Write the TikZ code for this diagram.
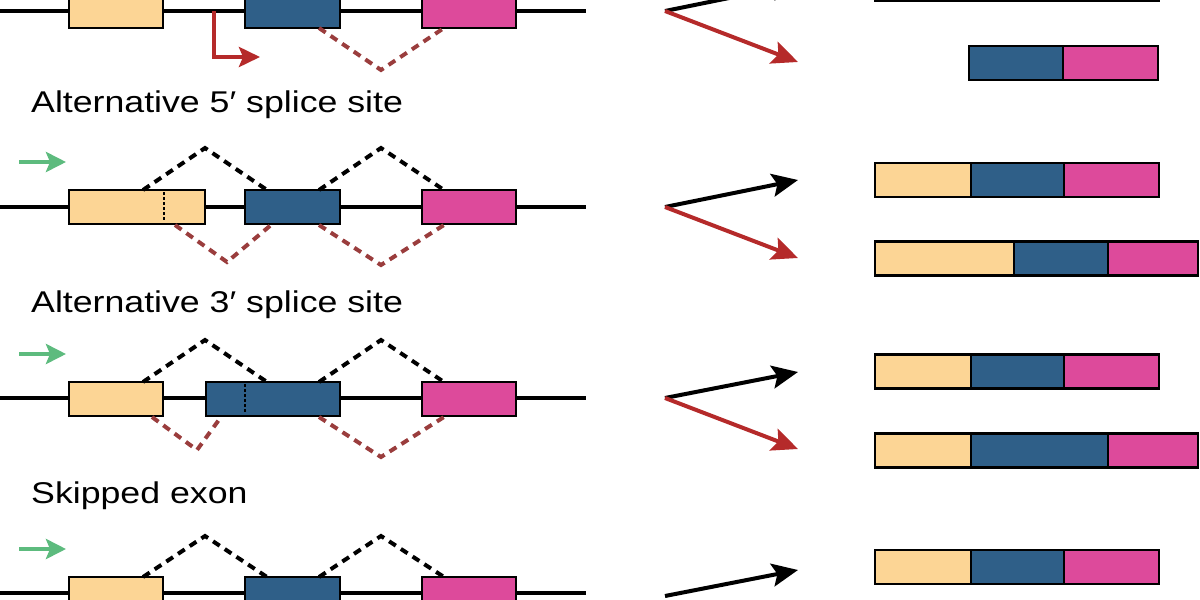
\documentclass[tikz,border=0pt]{standalone}
\usepackage{fontspec}
\setmainfont{Liberation Sans}
\newfontfamily\titlefont[FakeStretch=1.19]{Liberation Sans}
\usetikzlibrary{arrows.meta}
\definecolor{exY}{HTML}{FCD595}
\definecolor{exB}{HTML}{2F5F88}
\definecolor{exP}{HTML}{DD4A9B}
\definecolor{redA}{HTML}{B52A2A}
\definecolor{redD}{HTML}{9A3D3D}
\definecolor{grnA}{HTML}{5DBB7E}
\tikzset{
  intron/.style={line width=4.5pt, black},
  exon/.style={draw=black, line width=2.5pt, inner sep=0pt, outer sep=0pt},
  yex/.style={exon, fill=exY},
  bex/.style={exon, fill=exB},
  pex/.style={exon, fill=exP},
  jdash/.style={line width=4pt, dash pattern=on 8pt off 6pt},
  blackjn/.style={jdash, black},
  redjn/.style={jdash, redD},
  inner/.style={line width=2.5pt, dash pattern=on 3pt off 2pt, black},
  outarrow/.style={line width=4pt, -{Stealth[length=26pt,width=23pt,inset=5pt]}},
  greenarrow/.style={line width=4.5pt, grnA, -{Stealth[length=20pt,width=20pt,inset=4pt]}},
  promarrow/.style={line width=4pt, redA, -{Stealth[length=21pt,width=20pt,inset=4pt]}},
  seg/.style={draw=black, line width=2.5pt, inner sep=0pt, outer sep=0pt, minimum height=34pt},
  title/.style={anchor=base west, font=\titlefont\fontsize{30}{34}\selectfont, inner sep=0pt},
}
\begin{document}
\begin{tikzpicture}[x=1pt,y=-1pt]
\useasboundingbox (0,0) rectangle (1200,600);

% ================= Row 0 (line y = 11) =================
\coordinate (l0a) at (0,11); \coordinate (l0b) at (586,11);
\draw[intron] (l0a) -- (l0b);
\node[yex, minimum width=94pt, minimum height=34pt] (y0) at (116,11) {};
\node[bex, minimum width=95pt, minimum height=34pt] (b0) at (292.5,11) {};
\node[pex, minimum width=94pt, minimum height=34pt] (p0) at (469,11) {};
\coordinate (pr0) at (214,11); \coordinate (pr0e) at (260,57);
\draw[promarrow] (pr0) |- (pr0e);
\coordinate (r0a) at (319,28); \coordinate (r0m) at (381,70); \coordinate (r0b) at (444,28);
\draw[redjn] (r0a) -- (r0m) -- (r0b);
\coordinate (o0) at (665,11); \coordinate (t0b) at (798,-16); \coordinate (t0r) at (798,62);
\draw[outarrow, black] (o0) -- (t0b);
\draw[outarrow, redA] (o0) -- (t0r);
% mRNAs
\node[seg, fill=exY, minimum width=96pt] (m0y) at (923,-16) {};
\node[seg, fill=exB, minimum width=93pt] (m0b) at (1017.5,-16) {};
\node[seg, fill=exP, minimum width=95pt] (m0p) at (1111.5,-16) {};
\node[seg, fill=exB, minimum width=94pt] (n0b) at (1016,63) {};
\node[seg, fill=exP, minimum width=95pt] (n0p) at (1110.5,63) {};

\node[title] (t1) at (31,112) {Alternative 5′ splice site};

% ================= Row 1 (line y = 207) =================
\coordinate (g1a) at (19,162); \coordinate (g1b) at (66,162);
\draw[greenarrow] (g1a) -- (g1b);
\coordinate (l1a) at (0,207); \coordinate (l1b) at (586,207);
\draw[intron] (l1a) -- (l1b);
\node[yex, minimum width=136pt, minimum height=34pt] (y1) at (137,207) {};
\node[bex, minimum width=95pt, minimum height=34pt] (b1) at (292.5,207) {};
\node[pex, minimum width=94pt, minimum height=34pt] (p1) at (469,207) {};
\coordinate (d1a) at (164,192); \coordinate (d1b) at (164,221);
\draw[inner] (d1a) -- (d1b);
\coordinate (k1a) at (143,190); \coordinate (k1m) at (205,148); \coordinate (k1b) at (267,190);
\coordinate (k1c) at (319,190); \coordinate (k1n) at (381,148); \coordinate (k1d) at (444,190);
\draw[blackjn] (k1a) -- (k1m) -- (k1b);
\draw[blackjn] (k1c) -- (k1n) -- (k1d);
\coordinate (r1a) at (175,225); \coordinate (r1m) at (227,262); \coordinate (r1b) at (271,225);
\coordinate (r1c) at (319,225); \coordinate (r1n) at (381,265); \coordinate (r1d) at (444,225);
\draw[redjn] (r1a) -- (r1m) -- (r1b);
\draw[redjn] (r1c) -- (r1n) -- (r1d);
\coordinate (o1) at (665,207); \coordinate (t1b) at (798,180); \coordinate (t1r) at (798,258);
\draw[outarrow, black] (o1) -- (t1b);
\draw[outarrow, redA] (o1) -- (t1r);
\node[seg, fill=exY, minimum width=96pt] (m1y) at (923,180) {};
\node[seg, fill=exB, minimum width=93pt] (m1b) at (1017.5,180) {};
\node[seg, fill=exP, minimum width=95pt] (m1p) at (1111.5,180) {};
\node[seg, fill=exY, minimum width=139pt] (n1y) at (944.5,258.5) {};
\node[seg, fill=exB, minimum width=94pt] (n1b) at (1061,258.5) {};
\node[seg, fill=exP, minimum width=90pt] (n1p) at (1153,258.5) {};

\node[title] (t2) at (31,312) {Alternative 3′ splice site};

% ================= Row 2 (line y = 398) =================
\coordinate (g2a) at (19,354); \coordinate (g2b) at (66,354);
\draw[greenarrow] (g2a) -- (g2b);
\coordinate (l2a) at (0,398); \coordinate (l2b) at (586,398);
\draw[intron] (l2a) -- (l2b);
\node[yex, minimum width=94pt, minimum height=34pt] (y2) at (116,399) {};
\node[bex, minimum width=134pt, minimum height=34pt] (b2) at (273,399) {};
\node[pex, minimum width=94pt, minimum height=34pt] (p2) at (469,399) {};
\coordinate (d2a) at (245,384); \coordinate (d2b) at (245,413);
\draw[inner] (d2a) -- (d2b);
\coordinate (k2a) at (143,382); \coordinate (k2m) at (205,340); \coordinate (k2b) at (267,382);
\coordinate (k2c) at (319,382); \coordinate (k2n) at (381,340); \coordinate (k2d) at (444,382);
\draw[blackjn] (k2a) -- (k2m) -- (k2b);
\draw[blackjn] (k2c) -- (k2n) -- (k2d);
\coordinate (r2a) at (152,417); \coordinate (r2m) at (197,450); \coordinate (r2b) at (221,417);
\coordinate (r2c) at (319,417); \coordinate (r2n) at (381,457); \coordinate (r2d) at (444,417);
\draw[redjn] (r2a) -- (r2m) -- (r2b);
\draw[redjn] (r2c) -- (r2n) -- (r2d);
\coordinate (o2) at (665,398); \coordinate (t2b) at (798,372); \coordinate (t2r) at (798,449);
\draw[outarrow, black] (o2) -- (t2b);
\draw[outarrow, redA] (o2) -- (t2r);
\node[seg, fill=exY, minimum width=96pt] (m2y) at (923,371.5) {};
\node[seg, fill=exB, minimum width=93pt] (m2b) at (1017.5,371.5) {};
\node[seg, fill=exP, minimum width=95pt] (m2p) at (1111.5,371.5) {};
\node[seg, fill=exY, minimum width=96pt] (n2y) at (923,450.5) {};
\node[seg, fill=exB, minimum width=137pt] (n2b) at (1039.5,450.5) {};
\node[seg, fill=exP, minimum width=90pt] (n2p) at (1153,450.5) {};

\node[title] (t3) at (31,503) {Skipped exon};

% ================= Row 3 (line y = 593) =================
\coordinate (g3a) at (19,549); \coordinate (g3b) at (66,549);
\draw[greenarrow] (g3a) -- (g3b);
\coordinate (l3a) at (0,593); \coordinate (l3b) at (586,593);
\draw[intron] (l3a) -- (l3b);
\node[yex, minimum width=94pt, minimum height=34pt] (y3) at (116,594) {};
\node[bex, minimum width=95pt, minimum height=34pt] (b3) at (292.5,594) {};
\node[pex, minimum width=94pt, minimum height=34pt] (p3) at (469,594) {};
\coordinate (k3a) at (143,577); \coordinate (k3m) at (205,536); \coordinate (k3b) at (267,577);
\coordinate (k3c) at (319,577); \coordinate (k3n) at (381,536); \coordinate (k3d) at (444,577);
\draw[blackjn] (k3a) -- (k3m) -- (k3b);
\draw[blackjn] (k3c) -- (k3n) -- (k3d);
\coordinate (o3) at (665,596); \coordinate (t3b) at (798,570);
\draw[outarrow, black] (o3) -- (t3b);
\node[seg, fill=exY, minimum width=96pt] (m3y) at (923,567) {};
\node[seg, fill=exB, minimum width=93pt] (m3b) at (1017.5,567) {};
\node[seg, fill=exP, minimum width=95pt] (m3p) at (1111.5,567) {};
\end{tikzpicture}
\end{document}
